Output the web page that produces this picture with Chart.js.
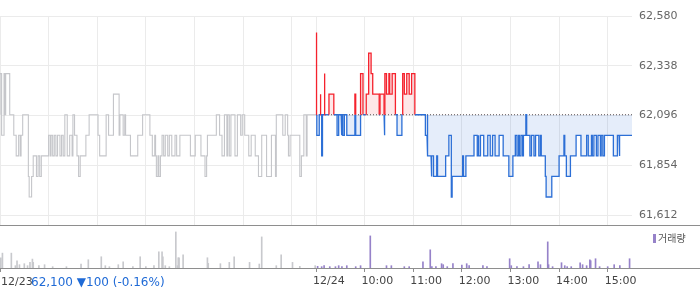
<!DOCTYPE html>
<html>
<head>
<meta charset="utf-8">
<script src="https://cdn.jsdelivr.net/npm/chart.js@4"></script>
<style>
html, body { margin: 0; padding: 0; background: #fff; }
#wrap { position: relative; width: 700px; height: 289px; overflow: hidden; font-family: "DejaVu Sans", sans-serif; }
#priceCanvas { position: absolute; left: 0; top: 0; }
#volCanvas { position: absolute; left: 0; top: 226px; }
.hline { position: absolute; left: 0; width: 700px; height: 1px; background: #8e8e8e; }
#dayLabel { position: absolute; left: 1px; top: 275px; font-size: 11px; line-height: 14px; color: #444; white-space: nowrap; }
#change { position: absolute; left: 31px; top: 274px; font-size: 12px; line-height: 16px; color: #1f6ad6; white-space: nowrap; }
#legend { position: absolute; left: 653px; top: 231px; font-size: 10px; line-height: 13px; color: #555; font-family: "Noto Sans CJK KR", sans-serif; white-space: nowrap; }
#legend i { display: inline-block; width: 3px; height: 9px; background: #9682c9; margin-right: 2px; vertical-align: -1px; }
</style>
</head>
<body>
<div id="wrap">
  <canvas id="priceCanvas" width="700" height="226"></canvas>
  <canvas id="volCanvas" width="700" height="63"></canvas>
  <div class="hline" style="top:225px"></div>
  <div class="hline" style="top:268px"></div>
  <div id="dayLabel">12/23</div>
  <div id="change">62,100 ▼100 (-0.16%)</div>
  <div id="legend"><i></i>거래량</div>
</div>
<script>
// 기준가 (12/24 점선)
const BASE = 62100;
const DAY = 390; // 09:00 ~ 15:30 분

// 축 라벨 (12/23 라벨은 등락 표시와 함께 html로)
const yTicks = [61612, 61854, 62096, 62338, 62580];
const gridMinutes = [0, 60, 120, 180, 240, 300, 360, 390, 450, 510, 570, 630, 690, 750];
const labelMinutes = [0, 390, 450, 510, 570, 630, 690, 750];
const xLabels = ['', '12/24', '10:00', '11:00', '12:00', '13:00', '14:00', '15:00'];

// 12/23 체결가 변화 [09:00 이후 분, 가격]
const prevTicks = [
    [0, 62100], [2, 62300], [5, 62000], [6, 62300], [7, 62100], [12, 62300], [17, 62100], [20, 62000],
    [23, 61900], [25, 62000], [26, 61900], [28, 62000], [35, 62100], [36, 61800], [39, 61700], [41, 61800],
    [45, 61900], [47, 61800], [49, 61900], [51, 61800], [60, 61900], [62, 62000], [63, 61900], [65, 62000],
    [67, 61900], [69, 62000], [71, 61900], [74, 62000], [76, 61900], [78, 62000], [80, 61900], [83, 62100],
    [86, 61900], [89, 62000], [90, 61900], [92, 62100], [95, 62000], [97, 61900], [99, 61800], [106, 61900],
    [110, 62000], [121, 62100], [123, 62000], [131, 61900], [134, 62100], [140, 62000], [147, 62200], [148, 62000],
    [152, 62100], [154, 62000], [155, 62100], [161, 62000], [170, 61900], [176, 62000], [185, 62100], [188, 62000],
    [191, 61900], [192, 62000], [193, 61900], [195, 61800], [196, 61900], [198, 61800], [200, 61900], [202, 62000],
    [204, 61900], [207, 62000], [209, 61900], [212, 62000], [216, 61900], [218, 62000], [222, 61900], [235, 62000],
    [241, 61900], [248, 62000], [253, 61900], [255, 61800], [256, 61900], [267, 62000], [271, 62100], [274, 62000],
    [277, 61900], [280, 62100], [281, 61900], [283, 62100], [285, 61900], [290, 62100], [293, 61900], [297, 62100],
    [299, 62000], [302, 62100], [307, 62000], [310, 61900], [315, 62000], [319, 61900], [323, 61800], [329, 62000],
    [335, 61800], [340, 62000], [341, 61800], [349, 62100], [352, 62000], [355, 62100], [356, 62000], [358, 61900],
    [370, 62000], [372, 61800], [375, 61900], [378, 62100], [379, 61900], [387, 62100], [390, 62100]
];

// 12/24 체결가 변화 [09:00 이후 분, 가격]
const todayTicks = [
    [0, 62500], [1, 62000], [4, 62100], [5, 62200], [6, 62100], [7, 61900], [8, 62100], [10, 62300],
    [11, 62100], [16, 62200], [22, 62100], [26, 62000], [28, 62100], [31, 62000], [32, 62100], [33, 62000],
    [35, 62100], [38, 62000], [48, 62200], [49, 62000], [55, 62300], [58, 62100], [62, 62200], [65, 62400],
    [68, 62300], [70, 62200], [78, 62100], [79, 62200], [84, 62000], [85, 62300], [87, 62200], [90, 62300],
    [91, 62200], [94, 62300], [98, 62100], [100, 62000], [106, 62100], [107, 62300], [109, 62200], [112, 62300],
    [115, 62200], [118, 62300], [122, 62100], [135, 62000], [137, 62100], [138, 61900], [142, 61800], [143, 61900],
    [145, 61800], [149, 61900], [150, 61800], [160, 61900], [164, 62000], [167, 61700], [168, 61800], [181, 61900],
    [182, 61800], [185, 61900], [195, 62000], [199, 61900], [200, 62000], [201, 61900], [203, 62000], [207, 61900],
    [212, 62000], [215, 61900], [218, 62000], [221, 61900], [226, 62000], [231, 61900], [238, 61800], [243, 61900],
    [246, 62000], [248, 61900], [250, 62000], [251, 61900], [253, 62000], [255, 61900], [256, 62000], [259, 62100],
    [260, 62000], [264, 61900], [266, 62000], [269, 61900], [271, 62000], [275, 61900], [277, 62000], [278, 61900],
    [283, 61800], [284, 61700], [291, 61800], [300, 61900], [306, 62000], [307, 61900], [309, 61800], [314, 61900],
    [321, 62000], [327, 61900], [334, 62000], [336, 61900], [340, 62000], [341, 61900], [343, 62000], [346, 61900],
    [348, 62000], [351, 61900], [352, 62000], [354, 61900], [356, 62000], [367, 61900], [372, 62000], [374, 61900],
    [375, 62000], [390, 62000]
];

// 거래량 [분, 상대값]
const prevVolume = [
    [1, 31], [3, 45], [14, 45], [19, 7], [21, 22], [24, 10], [30, 13], [34, 7], [37, 17], [40, 27], [41, 17],
    [48, 7], [55, 10], [65, 4], [82, 4], [100, 12], [109, 25], [125, 34], [130, 7], [135, 4], [146, 10],
    [152, 19], [164, 4], [173, 34], [180, 4], [190, 7], [196, 49], [200, 49], [201, 34], [204, 7], [209, 4],
    [217, 109], [219, 7], [220, 31], [221, 31], [226, 40], [256, 31], [257, 14], [272, 13], [283, 17], [289, 34],
    [308, 17], [320, 12], [323, 94], [341, 7], [347, 40], [361, 17], [370, 5], [389, 7]
];
const todayVolume = [
    [2, 5], [7, 4], [10, 7], [17, 4], [24, 4], [28, 7], [32, 4], [38, 7], [49, 4], [55, 7], [67, 97],
    [87, 7], [93, 7], [109, 4], [115, 4], [132, 19], [141, 55], [143, 4], [148, 4], [155, 13], [157, 10],
    [162, 4], [169, 13], [180, 9], [186, 13], [189, 7], [206, 7], [211, 4], [239, 28], [241, 7], [248, 4],
    [256, 4], [263, 10], [274, 19], [277, 10], [286, 79], [287, 10], [292, 4], [303, 16], [307, 7], [310, 4],
    [315, 4], [326, 16], [329, 10], [334, 7], [338, 25], [339, 22], [345, 28], [350, 4], [360, 4], [368, 10],
    [375, 7], [387, 28]
];

const RED = '#f5222d';
const BLUE = '#2c6fd6';
const font = { family: 'DejaVu Sans', size: 11 };

function comma(v) {
    return String(v).replace(/\B(?=(\d{3})+(?!\d))/g, ',');
}

// 계단형 꺾은선: 기준가를 넘나드는 지점에 BASE 점을 끼워 색을 나눔
function buildSteps(ticks, start, offset) {
    const pts = [{ x: offset, y: start }];
    let prev = start;
    ticks.forEach(([t, p]) => {
        const x = t + offset;
        pts.push({ x: x, y: prev });
        if ((prev - BASE) * (p - BASE) < 0) pts.push({ x: x, y: BASE });
        pts.push({ x: x, y: p });
        prev = p;
    });
    return pts;
}

const priceChart = new Chart(document.getElementById('priceCanvas'), {
    type: 'line',
    data: {
        datasets: [
            {
                data: prevTicks.map(([t, p]) => ({ x: t, y: p })),
                borderColor: '#c5c6ca',
                borderWidth: 1.1,
                stepped: 'after',
                pointRadius: 0,
                order: 3
            },
            {
                data: [{ x: DAY, y: BASE }, { x: DAY * 2, y: BASE }],
                borderColor: '#555',
                borderWidth: 1,
                borderDash: [1, 2],
                pointRadius: 0,
                order: 2
            },
            {
                data: buildSteps(todayTicks, BASE, DAY),
                borderWidth: 1.3,
                pointRadius: 0,
                segment: {
                    borderColor: ctx => (ctx.p0.parsed.y > BASE || ctx.p1.parsed.y > BASE) ? RED : BLUE
                },
                borderColor: BLUE,
                fill: { target: { value: BASE }, above: 'rgba(245, 34, 45, 0.11)', below: 'rgba(44, 111, 214, 0.12)' },
                order: 1
            }
        ]
    },
    options: {
        responsive: false,
        animation: false,
        devicePixelRatio: 1,
        layout: { padding: { top: 16, bottom: 1, left: 0, right: 0 } },
        plugins: { legend: { display: false }, tooltip: { enabled: false } },
        scales: {
            x: {
                type: 'linear',
                min: 0,
                max: DAY * 2,
                afterBuildTicks: s => { s.ticks = gridMinutes.map(v => ({ value: v })); },
                afterFit: s => { s.height = 0; },
                ticks: { display: false },
                grid: { color: '#ebebeb', drawTicks: false },
                border: { display: false }
            },
            y: {
                position: 'right',
                min: 61564,
                max: 62580,
                afterBuildTicks: s => { s.ticks = yTicks.map(v => ({ value: v })); },
                afterFit: s => { s.width = 68; s.paddingTop = 0; s.paddingBottom = 0; },
                ticks: { padding: 7, color: '#666', font: font, callback: v => comma(v) },
                grid: { color: '#ebebeb', drawTicks: false },
                border: { display: false }
            }
        }
    }
});

const volChart = new Chart(document.getElementById('volCanvas'), {
    type: 'bar',
    data: {
        datasets: [
            {
                data: prevVolume.map(([t, v]) => ({ x: t, y: v })),
                backgroundColor: '#c8c9cd',
                barThickness: 1,
                grouped: false
            },
            {
                data: todayVolume.map(([t, v]) => ({ x: t + DAY, y: v })),
                backgroundColor: '#9682c9',
                barThickness: 1,
                grouped: false
            }
        ]
    },
    options: {
        responsive: false,
        animation: false,
        devicePixelRatio: 1,
        layout: { padding: { top: 0, bottom: 0, left: 0, right: 68 } },
        plugins: { legend: { display: false }, tooltip: { enabled: false } },
        scales: {
            x: {
                type: 'linear',
                offset: false,
                min: 0,
                max: DAY * 2,
                afterBuildTicks: s => { s.ticks = labelMinutes.map(v => ({ value: v })); },
                afterFit: s => { s.height = 21; s.paddingLeft = 0; s.paddingRight = 0; },
                ticks: {
                    align: 'start',
                    labelOffset: -3,
                    padding: 3,
                    maxRotation: 0,
                    autoSkip: false,
                    color: '#444',
                    font: font,
                    callback: (v, i) => xLabels[i]
                },
                grid: { drawOnChartArea: false, offset: false, tickLength: 4, color: '#8e8e8e' },
                border: { display: false }
            },
            y: { display: false, min: 0, max: 127 }
        }
    }
});
</script>
</body>
</html>
